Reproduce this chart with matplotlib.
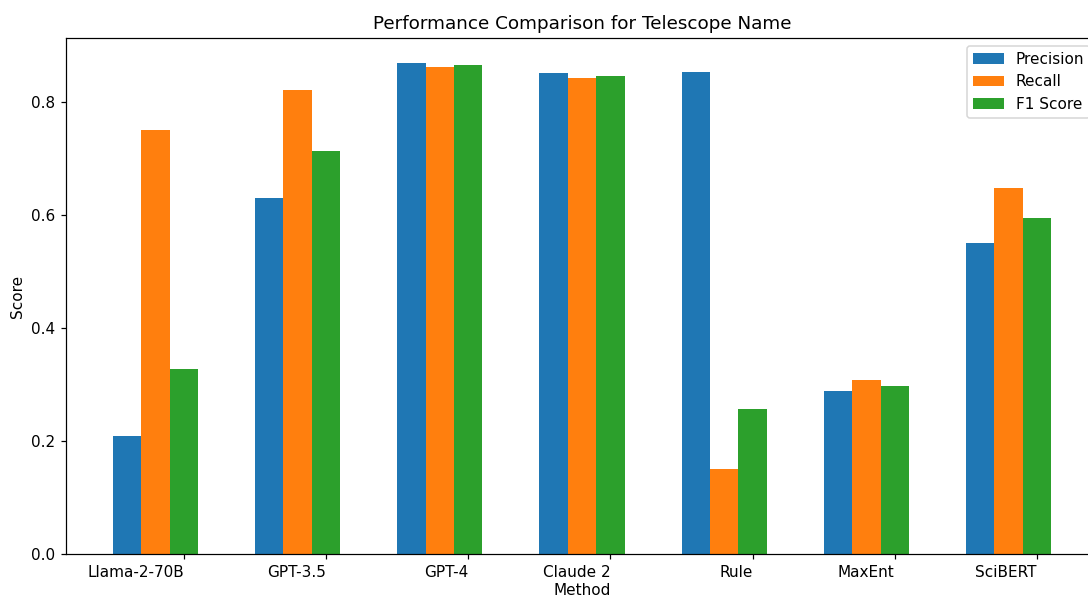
import matplotlib.pyplot as plt
import numpy as np

# daten
methods = ['Llama-2-70B', 'GPT-3.5', 'GPT-4', 'Claude 2', 'Rule', 'MaxEnt', 'SciBERT']
precision = [0.209, 0.630, 0.869, 0.851, 0.853, 0.288, 0.550]
recall = [0.749, 0.820, 0.861, 0.842, 0.150, 0.308, 0.647]
f1_score = [0.327, 0.712, 0.865, 0.846, 0.257, 0.297, 0.595]

x = np.arange(len(methods))
width = 0.2

fig = plt.figure(figsize=(1088 / 110, 598 / 110), dpi=110)
# achse geht rechts ueber den rand hinaus (wie im original abgeschnitten)
ax = fig.add_axes([66 / 1088, 44 / 598, 1032 / 1088, 516 / 598])

ax.bar(x, precision, width, label='Precision')
ax.bar(x + width, recall, width, label='Recall')
ax.bar(x + 2 * width, f1_score, width, label='F1 Score')

ax.set_xticks(x + 2 * width)
ax.set_xticklabels(methods, ha='right')
ax.set_xlabel('Method', labelpad=2)
ax.set_ylabel('Score')
ax.set_title('Performance Comparison for Telescope Name')
ax.legend(loc='upper right')

plt.savefig('out.png', dpi=110)
